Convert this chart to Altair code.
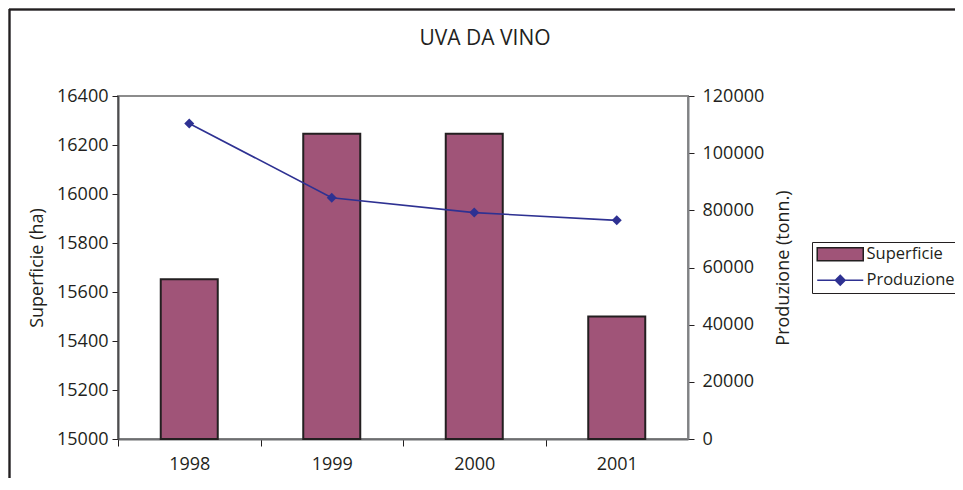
import altair as alt
import pandas as pd

years = ["1998", "1999", "2000", "2001"]
superficie = [15652, 16246, 16246, 15500]
produzione = [110400, 84400, 79200, 76500]
series = ["Superficie", "Produzione"]
left_ticks = [15000, 15200, 15400, 15600, 15800, 16000, 16200, 16400]
right_ticks = [0, 20000, 40000, 60000, 80000, 100000, 120000]

BAR = "#A05478"
LINE = "#2E3192"
INK = "#231F20"
FONT = "Open Sans"

df = pd.DataFrame({"anno": years, "superficie": superficie, "produzione": produzione})

W, H = 570, 343
PL, PT = 110, 88
TOTAL_W, TOTAL_H = 947, 470

x_enc = alt.X(
    "anno:N",
    title=None,
    scale=alt.Scale(paddingInner=0, paddingOuter=0),
    axis=alt.Axis(
        labelAngle=0, tickOffset=-W / 8, labelOffset=W / 8, tickSize=7,
        labelPadding=9, domainColor="#6d6e71", domainWidth=2, tickColor=INK,
        labelFont=FONT, labelFontSize=18, labelColor=INK,
    ),
)

fill_scale = alt.Scale(domain=series, range=[BAR, LINE])
stroke_scale = alt.Scale(domain=series, range=[INK, LINE])
shape_scale = alt.Scale(
    domain=series,
    range=["M-1.08,-1H6V1H-1.08Z", "M-1.08,0H6M2.46,-0.75L3.21,0L2.46,0.75L1.71,0Z"],
)

bars = alt.Chart(df).transform_calculate(serie="'Superficie'").mark_bar(
    width=alt.RelativeBandSize(0.4), stroke=INK, strokeWidth=2
).encode(
    x=x_enc,
    y=alt.Y(
        "superficie:Q",
        title="Superficie (ha)",
        scale=alt.Scale(domain=[15000, 16400], zero=False, nice=False),
        axis=alt.Axis(
            orient="left", values=left_ticks, format="d", tickSize=6, labelPadding=4,
            domainColor="#4d4d4f", domainWidth=2, tickColor=INK, grid=False,
            labelFont=FONT, labelFontSize=18, labelColor=INK,
            titleFont=FONT, titleFontSize=18, titleFontWeight="normal", titleColor=INK,
            titleAngle=270, titleX=-81, titleY=H / 2, titleAlign="center", titleBaseline="middle",
        ),
    ),
    y2=alt.datum(15000),
    fill=alt.Fill("serie:N", scale=fill_scale, legend=alt.Legend(title=None)),
)

line = alt.Chart(df).transform_calculate(serie="'Produzione'").mark_line(strokeWidth=1.6).encode(
    x=x_enc,
    y=alt.Y(
        "produzione:Q",
        title="Produzione (tonn.)",
        scale=alt.Scale(domain=[0, 120000], nice=False),
        axis=alt.Axis(
            orient="right", values=right_ticks, format="d", tickSize=6, labelPadding=8,
            domainColor="#808285", domainWidth=2, tickColor=INK, grid=False,
            labelFont=FONT, labelFontSize=18, labelColor=INK,
            titleFont=FONT, titleFontSize=18, titleFontWeight="normal", titleColor=INK,
            titleAngle=270, titleX=95, titleY=H / 2, titleAlign="center", titleBaseline="middle",
        ),
    ),
    stroke=alt.Stroke("serie:N", scale=stroke_scale, legend=alt.Legend(title=None)),
)

points = alt.Chart(df).transform_calculate(serie="'Produzione'").mark_point(
    filled=True, opacity=1, size=100, shape="diamond"
).encode(
    x=x_enc,
    y=alt.Y("produzione:Q"),
    fill=alt.Fill("serie:N", scale=fill_scale, legend=alt.Legend(title=None)),
)

line_layer = alt.layer(line, points)

legend_layer = alt.Chart(df).transform_calculate(serie="'Superficie'").transform_filter(
    "datum.serie == 'none'"
).mark_point(filled=True, opacity=1).encode(
    fill=alt.Fill("serie:N", scale=fill_scale, legend=alt.Legend(title=None)),
    stroke=alt.Stroke("serie:N", scale=stroke_scale, legend=alt.Legend(title=None)),
    shape=alt.Shape("serie:N", scale=shape_scale, legend=alt.Legend(title=None)),
)

frame_top = alt.Chart(df).mark_rule(color=INK, strokeWidth=1.5).encode(
    x=alt.value(-PL + 1), x2=alt.value(TOTAL_W - PL), y=alt.value(-PT + 1.5)
)
frame_left = alt.Chart(df).mark_rule(color=INK, strokeWidth=1.5).encode(
    x=alt.value(-PL + 1.5), y=alt.value(-PT + 1), y2=alt.value(TOTAL_H - PT)
)

chart = alt.layer(bars, line_layer, legend_layer, frame_top, frame_left).resolve_scale(
    y="independent"
).properties(
    width=W,
    height=H,
    autosize=alt.AutoSizeParams(type="none"),
    padding={"left": PL, "top": PT, "right": TOTAL_W - PL - W, "bottom": TOTAL_H - PT - H},
    title=alt.TitleParams(
        "UVA DA VINO", font=FONT, fontSize=21, fontWeight="normal", color=INK,
        anchor="middle", frame="group", dx=82, dy=41, offset=0,
    ),
).configure_view(
    stroke="#8c8c8c", strokeWidth=2
).configure_legend(
    orient="none", legendX=694, legendY=146, strokeColor=INK, padding=4,
    labelFont=FONT, labelFontSize=16.5, labelColor=INK, labelOffset=34,
    symbolSize=169, symbolStrokeWidth=1.5, rowPadding=8, labelLimit=0,
)

chart.save("out.html", embed_options={"renderer": "svg", "actions": False})
